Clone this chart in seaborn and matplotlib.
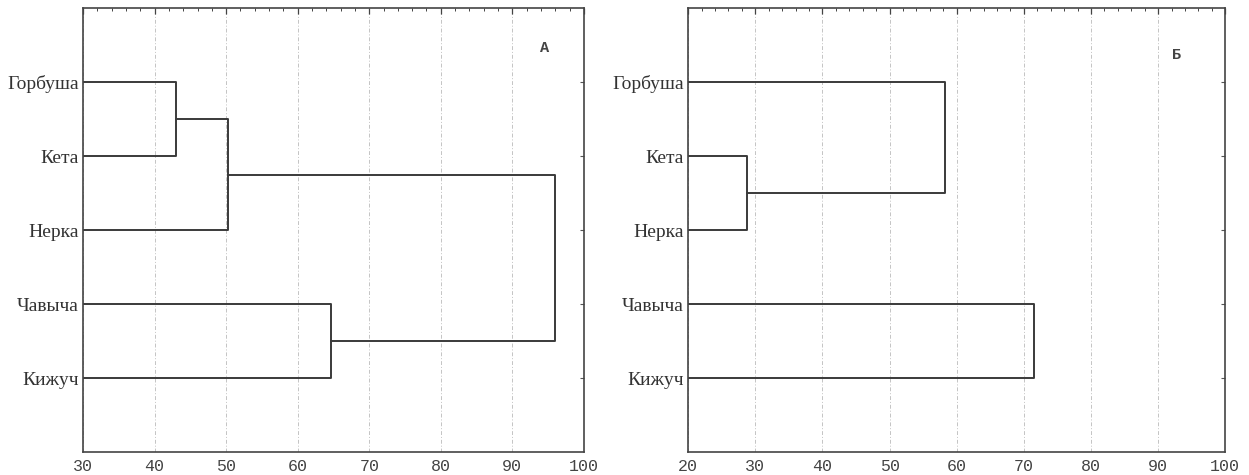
import numpy as np
import pandas as pd
import seaborn as sns
import matplotlib.pyplot as plt
from matplotlib.ticker import MultipleLocator

# Породы (листья дендрограммы, сверху вниз)
species = ["Горбуша", "Кета", "Нерка", "Чавыча", "Кижуч"]

# Объединения: (узел 1, узел 2, уровень); узлы 0-4 - листья, далее - новые кластеры
merges_a = [(0, 1, 43.0), (5, 2, 50.2), (3, 4, 64.7), (6, 7, 96.0)]
merges_b = [(1, 2, 28.7), (0, 5, 58.3), (3, 4, 71.5)]

xlim_a = (30, 100)
xlim_b = (20, 100)
letter_a = "А"
letter_b = "Б"


def build_links(merges, x_leaf):
    """
    Строит отрезки дендрограммы (П-образные связи) в виде таблицы.
    """
    pos = {i: (x_leaf, i + 1.0) for i in range(len(species))}
    rows = []
    for k, (i, j, h) in enumerate(merges):
        (x1, y1), (x2, y2) = pos[i], pos[j]
        for x, y in [(x1, y1), (h, y1), (h, y2), (x2, y2)]:
            rows.append({"link": k, "x": x, "y": y})
        pos[len(species) + k] = (h, (y1 + y2) / 2)
    return pd.DataFrame(rows)


def draw_panel(ax, merges, xlim, letter, pos_letter):
    df = build_links(merges, xlim[0])
    sns.lineplot(data=df, x="x", y="y", units="link", estimator=None, sort=False,
                 color="#3a3a3a", linewidth=1.4, ax=ax, legend=False)
    ax.set_xlim(*xlim)
    ax.set_ylim(len(species) + 1, 0)
    ax.set_xlabel("")
    ax.set_ylabel("")
    ax.xaxis.set_major_locator(MultipleLocator(10))
    ax.xaxis.set_minor_locator(MultipleLocator(2))
    ax.set_yticks(range(1, len(species) + 1))
    ax.set_yticklabels(species, fontfamily="Liberation Serif", fontsize=14, color="#333333")
    for lab in ax.get_xticklabels():
        lab.set_fontfamily("Liberation Mono")
        lab.set_fontsize(12)
        lab.set_color("#444444")
    ax.tick_params(axis="x", which="major", direction="in", length=4, top=True,
                   width=0.9, color="#444444", pad=5)
    ax.tick_params(axis="x", which="minor", direction="in", length=2, top=True,
                   width=0.7, color="#444444")
    ax.tick_params(axis="y", direction="in", length=3, right=True,
                   width=0.8, color="#555555", pad=3)
    ax.grid(axis="x", which="major", color="#c4c4c4", linestyle=(0, (4, 2, 1, 2)),
            linewidth=0.7)
    ax.grid(axis="y", visible=False)
    for sp in ax.spines.values():
        sp.set_color("#444444")
        sp.set_linewidth(1.2)
    ax.text(pos_letter[0], pos_letter[1], letter, transform=ax.transAxes,
            fontfamily="Liberation Mono", fontsize=11, fontweight="bold",
            color="#444444", ha="center", va="center")


def main():
    sns.set_style("white")
    fig = plt.figure(figsize=(12.49, 4.75), dpi=100)
    ax_a = fig.add_axes([0.0665, 0.048, 0.401, 0.935])
    ax_b = fig.add_axes([0.551, 0.048, 0.430, 0.935])

    draw_panel(ax_a, merges_a, xlim_a, letter_a, (0.922, 0.91))
    draw_panel(ax_b, merges_b, xlim_b, letter_b, (0.909, 0.894))

    fig.savefig("out.png", dpi=100)


if __name__ == "__main__":
    main()
